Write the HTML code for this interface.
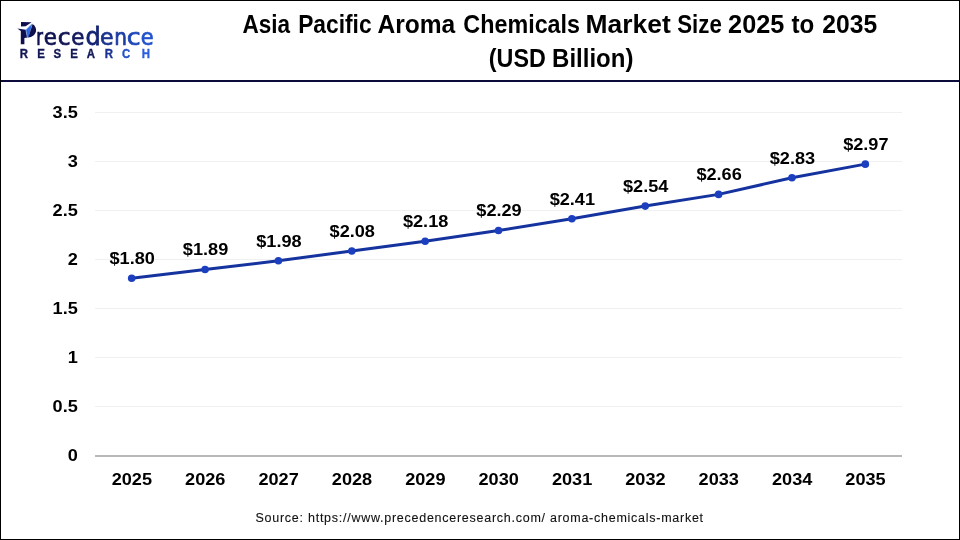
<!DOCTYPE html>
<html><head><meta charset="utf-8">
<style>
html,body{margin:0;padding:0;background:#fff;}
#root{position:relative;width:960px;height:540px;overflow:hidden;background:#fff;box-sizing:border-box;border:1px solid #000;will-change:transform;}
.hl{position:absolute;left:0;top:79px;width:960px;height:2px;background:#0c0c3c;}
.src{position:absolute;left:254.5px;top:509px;font-family:"Liberation Sans",Arial,sans-serif;font-size:12.5px;line-height:16px;color:#111;white-space:nowrap;letter-spacing:0.74px;-webkit-text-stroke:0.1px #111;}
g.ct text{font-family:"Liberation Sans",Arial,sans-serif;font-weight:bold;font-size:16.5px;fill:#000;}
</style></head><body>
<div id="root">
<svg width="960" height="540" style="position:absolute;left:-1px;top:-1px">
<line x1="95" y1="406.5" x2="902" y2="406.5" stroke="#f0f0f0" stroke-width="1"/>
<line x1="95" y1="357.5" x2="902" y2="357.5" stroke="#f0f0f0" stroke-width="1"/>
<line x1="95" y1="308.5" x2="902" y2="308.5" stroke="#f0f0f0" stroke-width="1"/>
<line x1="95" y1="259.5" x2="902" y2="259.5" stroke="#f0f0f0" stroke-width="1"/>
<line x1="95" y1="210.5" x2="902" y2="210.5" stroke="#f0f0f0" stroke-width="1"/>
<line x1="95" y1="161.5" x2="902" y2="161.5" stroke="#f0f0f0" stroke-width="1"/>
<line x1="95" y1="112.5" x2="902" y2="112.5" stroke="#f0f0f0" stroke-width="1"/>

<line x1="95" y1="456" x2="902" y2="456" stroke="#b9b9b9" stroke-width="2"/>
<polyline points="131.68,278.32 205.05,269.54 278.41,260.75 351.77,250.99 425.14,241.23 498.50,230.50 571.86,218.78 645.23,206.10 718.59,194.38 791.95,177.79 865.32,164.13" fill="none" stroke="#15339e" stroke-width="3" stroke-linejoin="round"/>
<g fill="#1c3fc0"><circle cx="131.68" cy="278.32" r="3.8"/><circle cx="205.05" cy="269.54" r="3.8"/><circle cx="278.41" cy="260.75" r="3.8"/><circle cx="351.77" cy="250.99" r="3.8"/><circle cx="425.14" cy="241.23" r="3.8"/><circle cx="498.50" cy="230.50" r="3.8"/><circle cx="571.86" cy="218.78" r="3.8"/><circle cx="645.23" cy="206.10" r="3.8"/><circle cx="718.59" cy="194.38" r="3.8"/><circle cx="791.95" cy="177.79" r="3.8"/><circle cx="865.32" cy="164.13" r="3.8"/></g>
<g class="ct">
<text transform="translate(77.80 460.70) scale(1.1 1)" text-anchor="end">0</text>
<text transform="translate(77.80 411.70) scale(1.1 1)" text-anchor="end">0.5</text>
<text transform="translate(77.80 362.70) scale(1.1 1)" text-anchor="end">1</text>
<text transform="translate(77.80 313.70) scale(1.1 1)" text-anchor="end">1.5</text>
<text transform="translate(77.80 264.70) scale(1.1 1)" text-anchor="end">2</text>
<text transform="translate(77.80 215.70) scale(1.1 1)" text-anchor="end">2.5</text>
<text transform="translate(77.80 166.70) scale(1.1 1)" text-anchor="end">3</text>
<text transform="translate(77.80 117.70) scale(1.1 1)" text-anchor="end">3.5</text>

<text transform="translate(131.88 485.00) scale(1.1 1)" text-anchor="middle">2025</text>
<text transform="translate(205.25 485.00) scale(1.1 1)" text-anchor="middle">2026</text>
<text transform="translate(278.61 485.00) scale(1.1 1)" text-anchor="middle">2027</text>
<text transform="translate(351.97 485.00) scale(1.1 1)" text-anchor="middle">2028</text>
<text transform="translate(425.34 485.00) scale(1.1 1)" text-anchor="middle">2029</text>
<text transform="translate(498.70 485.00) scale(1.1 1)" text-anchor="middle">2030</text>
<text transform="translate(572.06 485.00) scale(1.1 1)" text-anchor="middle">2031</text>
<text transform="translate(645.43 485.00) scale(1.1 1)" text-anchor="middle">2032</text>
<text transform="translate(718.79 485.00) scale(1.1 1)" text-anchor="middle">2033</text>
<text transform="translate(792.15 485.00) scale(1.1 1)" text-anchor="middle">2034</text>
<text transform="translate(865.52 485.00) scale(1.1 1)" text-anchor="middle">2035</text>

<text transform="translate(132.18 264.12) scale(1.1 1)" text-anchor="middle">$1.80</text>
<text transform="translate(205.55 255.34) scale(1.1 1)" text-anchor="middle">$1.89</text>
<text transform="translate(278.91 246.55) scale(1.1 1)" text-anchor="middle">$1.98</text>
<text transform="translate(352.27 236.79) scale(1.1 1)" text-anchor="middle">$2.08</text>
<text transform="translate(425.64 227.03) scale(1.1 1)" text-anchor="middle">$2.18</text>
<text transform="translate(499.00 216.30) scale(1.1 1)" text-anchor="middle">$2.29</text>
<text transform="translate(572.36 204.58) scale(1.1 1)" text-anchor="middle">$2.41</text>
<text transform="translate(645.73 191.90) scale(1.1 1)" text-anchor="middle">$2.54</text>
<text transform="translate(719.09 180.18) scale(1.1 1)" text-anchor="middle">$2.66</text>
<text transform="translate(792.45 163.59) scale(1.1 1)" text-anchor="middle">$2.83</text>
<text transform="translate(865.82 149.93) scale(1.1 1)" text-anchor="middle">$2.97</text>
</g>
<polygon points="32.4,23.4 25.7,29.8 27.4,37.4 28.6,37.4" fill="#2d68de"/>
<g fill="#0d0f4f">
<polygon points="21,22 31.6,22.2 25.6,26.3 21,26.5"/>
<polygon points="17.3,28.4 25.8,29.7 27.4,37.6 24.4,38 24.4,44.2 20.8,44.2 20.8,31.1"/>
<path d="M32.6,23.9 C35,25.3 36.3,28 36.1,30.5 C35.8,34.5 32,37.3 28.3,37.6 Z"/>
</g>
<polyline points="31.8,23.6 25.9,29.9 27.2,37.0" fill="none" stroke="#a9c7f7" stroke-width="0.6"/>

<g style="font-family:&quot;DejaVu Sans&quot;,sans-serif;font-size:23.5px" stroke-width="0.75"><text fill="#0e1150" stroke="#0e1150" transform="translate(36.20 44.5) scale(0.700 0.99)">r</text><text fill="#0f1251" stroke="#0f1251" transform="translate(43.84 44.5) scale(0.912 0.99)">e</text><text fill="#101352" stroke="#101352" transform="translate(57.80 44.5) scale(0.995 0.99)">c</text><text fill="#12195d" stroke="#12195d" transform="translate(71.34 44.5) scale(0.912 0.99)">e</text><text fill="#152576" stroke="#152576" transform="translate(85.58 44.5) scale(1.017 1.07)">d</text><text fill="#19328f" stroke="#19328f" transform="translate(100.06 44.5) scale(0.938 0.99)">e</text><text fill="#1c3da5" stroke="#1c3da5" transform="translate(114.29 44.5) scale(0.855 0.99)">n</text><text fill="#1e47b9" stroke="#1e47b9" transform="translate(126.82 44.5) scale(1.077 0.99)">c</text><text fill="#2152ce" stroke="#2152ce" transform="translate(140.71 44.5) scale(0.892 0.99)">e</text></g>
<g style="font-family:&quot;Liberation Sans&quot;,Arial,sans-serif;font-weight:bold;font-size:12.4px"><text fill="#101452" stroke="#101452" stroke-width="0.35" transform="translate(19.73 58.4) scale(0.92 1.03)">R</text><text fill="#111554" stroke="#111554" stroke-width="0.35" transform="translate(37.23 58.4) scale(0.92 1.03)">E</text><text fill="#111655" stroke="#111655" stroke-width="0.35" transform="translate(53.39 58.4) scale(0.92 1.03)">S</text><text fill="#121757" stroke="#121757" stroke-width="0.35" transform="translate(70.13 58.4) scale(0.92 1.03)">E</text><text fill="#121858" stroke="#121858" stroke-width="0.35" transform="translate(86.75 58.4) scale(0.92 1.03)">A</text><text fill="#1a3192" stroke="#1a3192" stroke-width="0.35" transform="translate(104.63 58.4) scale(0.92 1.03)">R</text><text fill="#2451c7" stroke="#2451c7" stroke-width="0.35" transform="translate(122.05 58.4) scale(0.92 1.03)">C</text><text fill="#2a5ee0" stroke="#2a5ee0" stroke-width="0.35" transform="translate(141.73 58.4) scale(0.92 1.03)">H</text></g>
<g style="font-family:'Liberation Sans',Arial,sans-serif;font-weight:bold;font-size:25px" fill="#000">
<text transform="translate(242.50 32.9) scale(0.9029 1)">Asia</text>
<text transform="translate(298.18 32.9) scale(0.9115 1)">Pacific</text>
<text transform="translate(377.42 32.9) scale(0.9833 1)">Aroma</text>
<text transform="translate(463.37 32.9) scale(0.9333 1)">Chemicals</text>
<text transform="translate(585.59 32.9) scale(1.0564 1)">Market</text>
<text transform="translate(677.21 32.9) scale(0.8917 1)">Size</text>
<text transform="translate(728.09 32.9) scale(1.0111 1)">2025</text>
<text transform="translate(791.40 32.9) scale(0.9652 1)">to</text>
<text transform="translate(822.31 32.9) scale(0.9870 1)">2035</text>
<text transform="translate(488.77 66.8) scale(0.9339 1)">(USD</text>
<text transform="translate(552.08 66.8) scale(0.9610 1)">Billion)</text>

</g>
</svg>
<div class="hl"></div>
<div class="src">Source: https://www.precedenceresearch.com/ aroma-chemicals-market</div>
</div>
</body></html>
